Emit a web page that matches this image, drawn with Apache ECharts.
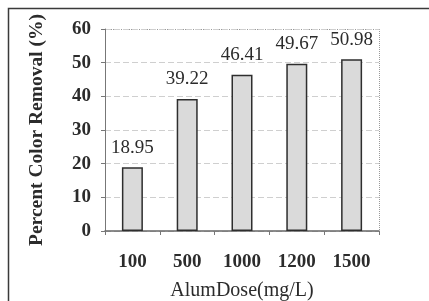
<!DOCTYPE html>
<html>
<head>
<meta charset="utf-8">
<script src="https://cdn.jsdelivr.net/npm/echarts@6/dist/echarts.min.js"></script>
<style>
  html, body { margin: 0; padding: 0; background: #fff; }
  #chart { width: 429px; height: 301px; }
</style>
</head>
<body>
<div id="chart"></div>
<script>
// alum dose vs colour removal
const doses = ['100', '500', '1000', '1200', '1500'];
const removal = [18.95, 39.22, 46.41, 49.67, 50.98];
const yTicks = [0, 10, 20, 30, 40, 50, 60];

const font = 'Liberation Serif';
const ink = '#2b2b2b';

const chart = echarts.init(document.getElementById('chart'));

chart.setOption({
    animation: false,
    backgroundColor: '#fff',
    graphic: [{
        type: 'rect',
        shape: { x: 8.5, y: 8.5, width: 440, height: 300 },
        style: { fill: 'none', stroke: '#3a3a3a', lineWidth: 1.5 },
        silent: true
    }, {
        // dotted top/right border of plot area
        type: 'polyline',
        shape: { points: [[105, 29.5], [379.5, 29.5], [379.5, 231]] },
        style: { stroke: '#999', lineWidth: 1, lineDash: [1, 1], fill: 'none' },
        silent: true
    }],
    grid: { left: 105, right: 50, top: 29, bottom: 70, outerBoundsMode: 'none' },
    xAxis: {
        type: 'category',
        data: doses,
        name: 'AlumDose(mg/L)',
        nameLocation: 'middle',
        nameGap: 50,
        nameTextStyle: { fontFamily: font, fontSize: 20, color: ink },
        axisLine: { lineStyle: { color: '#666', width: 1.5 } },
        axisTick: { show: true, length: 4, lineStyle: { color: '#777' } },
        axisLabel: { fontFamily: font, fontSize: 19, fontWeight: 'bold', color: ink, margin: 22 },
        splitLine: { show: false }
    },
    yAxis: {
        type: 'value',
        min: yTicks[0],
        max: yTicks[yTicks.length - 1],
        interval: 10,
        name: 'Percent Color Removal (%)',
        nameLocation: 'middle',
        nameGap: 58,
        nameTextStyle: { fontFamily: font, fontSize: 19.5, fontWeight: 'bold', color: ink },
        axisLine: { show: true, lineStyle: { color: '#777', width: 1 } },
        axisTick: { show: true, length: 4, lineStyle: { color: '#777' } },
        axisLabel: { fontFamily: font, fontSize: 19, fontWeight: 'bold', color: ink, margin: 14 },
        splitLine: { lineStyle: { color: '#cfcfcf', type: [6, 3] } }
    },
    series: [{
        type: 'bar',
        data: removal,
        barWidth: 21,
        itemStyle: { color: '#dadada', borderColor: '#2e2e2e', borderWidth: 1.5 },
        label: {
            show: true,
            position: 'top',
            distance: 10,
            fontFamily: font,
            fontSize: 19,
            color: ink,
            formatter: p => p.value.toFixed(2)
        }
    }]
});
</script>
</body>
</html>
